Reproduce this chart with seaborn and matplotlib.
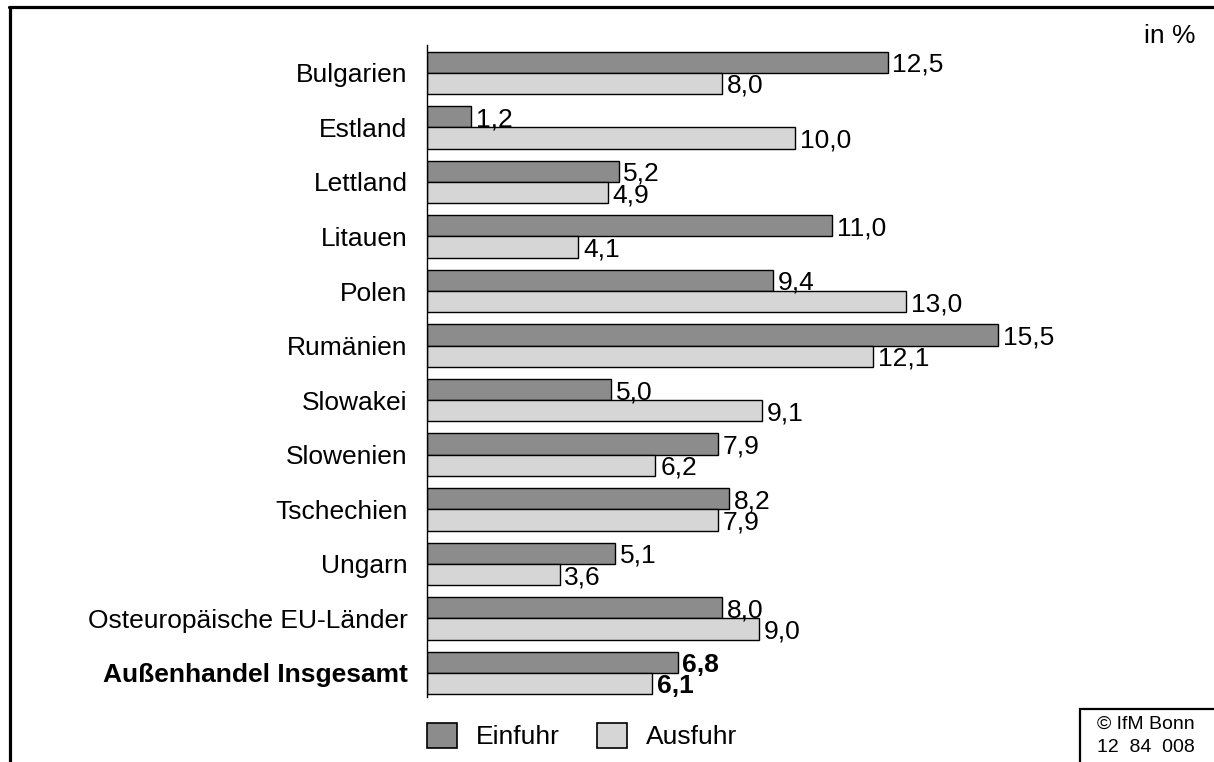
import matplotlib
matplotlib.use("Agg")
import matplotlib.pyplot as plt
from matplotlib.lines import Line2D
from matplotlib.patches import Patch, Rectangle
import seaborn as sns
import pandas as pd

# Chart values
laender = ['Bulgarien', 'Estland', 'Lettland', 'Litauen', 'Polen', 'Rumänien',
           'Slowakei', 'Slowenien', 'Tschechien', 'Ungarn',
           'Osteuropäische EU-Länder', 'Außenhandel Insgesamt']
einfuhr = [12.5, 1.2, 5.2, 11.0, 9.4, 15.5, 5.0, 7.9, 8.2, 5.1, 8.0, 6.8]
ausfuhr = [8.0, 10.0, 4.9, 4.1, 13.0, 12.1, 9.1, 6.2, 7.9, 3.6, 9.0, 6.1]
serien = ['Einfuhr', 'Ausfuhr']
farben = {'Einfuhr': '#8c8c8c', 'Ausfuhr': '#d6d6d6'}

df = pd.DataFrame({
    'Land': laender * 2,
    'Wert': einfuhr + ausfuhr,
    'Art': ['Einfuhr'] * len(laender) + ['Ausfuhr'] * len(laender),
})

sns.set_style('white', {'text.color': 'black', 'axes.labelcolor': 'black',
                        'xtick.color': 'black', 'ytick.color': 'black'})
plt.rcParams['font.family'] = ['Liberation Sans', 'DejaVu Sans']

fig = plt.figure(figsize=(12.14, 7.62), dpi=100)
ax = fig.add_axes([0.3517, 0.0853, 0.516, 0.8557])

sns.barplot(data=df, y='Land', x='Wert', hue='Art', hue_order=serien,
            palette=farben, orient='h', width=0.78, edgecolor='black',
            linewidth=1.0, legend=False, ax=ax)

ax.set_xlim(0, 17)
ax.set_ylim(11.44, -0.51)
ax.set_xlabel('')
ax.set_ylabel('')
ax.set_xticks([])
ax.tick_params(axis='y', length=0, pad=14, labelsize=19, labelcolor='black')
for s in ['top', 'right', 'bottom']:
    ax.spines[s].set_visible(False)
ax.spines['left'].set_color('black')
ax.spines['left'].set_linewidth(1.0)

last = ax.get_yticklabels()[-1]
last.set_fontweight('bold')

# value labels
for i, cont in enumerate(ax.containers):
    for j, bar in enumerate(cont):
        w = bar.get_width()
        y = bar.get_y() + bar.get_height() / 2
        fw = 'bold' if j == len(laender) - 1 else 'normal'
        ax.annotate(f'{w:.1f}'.replace('.', ','), (w, y), xytext=(3.5, 0),
                    textcoords='offset points', va='center_baseline', ha='left',
                    fontsize=19, fontweight=fw, color='black')

# legend
handles = [Patch(facecolor=farben[s], edgecolor='black', linewidth=1.2, label=s)
           for s in serien]
fig.legend(handles=handles, loc='center', bbox_to_anchor=(582 / 1214, 1 - 736 / 762),
           ncol=2, frameon=False, fontsize=19, handlelength=1.13,
           handleheight=1.1, handletextpad=0.72, columnspacing=1.4)

fig.text(1195 / 1214, 1 - 36 / 762, 'in %', ha='right', va='center', fontsize=19)

# frame lines
fig.add_artist(Line2D([9.5 / 1214, 9.5 / 1214], [0, 1 - 6.5 / 762],
                      color='black', linewidth=2.3, transform=fig.transFigure))
fig.add_artist(Line2D([8.5 / 1214, 1], [1 - 6.5 / 762, 1 - 6.5 / 762],
                      color='black', linewidth=2.3, transform=fig.transFigure))

# source box
fig.add_artist(Rectangle((1080 / 1214, -0.01), 0.2, 1 - 709 / 762 + 0.01,
                         facecolor='none', edgecolor='black', linewidth=1.6,
                         transform=fig.transFigure))
fig.text(1146 / 1214, 1 - 724 / 762, '© IfM Bonn', ha='center', va='center', fontsize=14)
fig.text(1146 / 1214, 1 - 748 / 762, '12  84  008', ha='center', va='center', fontsize=14)

fig.savefig('out.png', dpi=100)
